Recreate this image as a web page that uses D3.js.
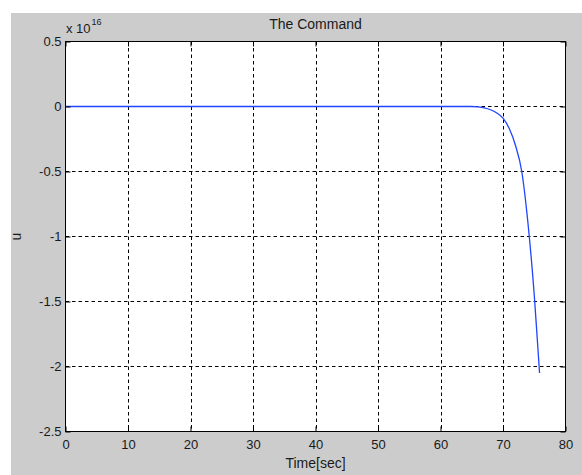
<!DOCTYPE html>
<html>
<head>
<meta charset="utf-8">
<script src="https://cdn.jsdelivr.net/npm/d3@7/dist/d3.min.js"></script>
<style>
  html, body { margin: 0; padding: 0; background: #ffffff; }
  svg { display: block; }
  text { font-family: "Liberation Sans", Arial, sans-serif; fill: #1a1a1a; }
</style>
</head>
<body>
<svg id="chart" width="582" height="475"></svg>
<script>
// ---- data (u in units of 1e16) ----
const time = [0, 10, 20, 30, 40, 50, 60, 65, 66, 67, 68, 69, 70, 71, 72, 73, 74, 75, 75.5, 75.85];
const u    = [0, 0, 0, 0, 0, 0, 0, 0, -0.003, -0.01, -0.025, -0.05, -0.09, -0.17, -0.3, -0.5, -0.9, -1.45, -1.8, -2.05];
const xTicks = [0, 10, 20, 30, 40, 50, 60, 70, 80];
const xTickLabels = ["0", "10", "20", "30", "40", "50", "60", "70", "80"];
const yTicks = [0.5, 0, -0.5, -1, -1.5, -2, -2.5];
const yTickLabels = ["0.5", "0", "-0.5", "-1", "-1.5", "-2", "-2.5"];
const exponent = "16";
const titleText = "The Command";
const xLabelText = "Time[sec]";
const yLabelText = "u";

const svg = d3.select("#chart");

// figure background
svg.append("rect").attr("x", 11).attr("y", 13).attr("width", 571).attr("height", 462).attr("fill", "#cccccc");

const L = 65.5, R = 565.5, T = 41.5, B = 431.5;
const x = d3.scaleLinear().domain([0, 80]).range([L, R]);
const y = d3.scaleLinear().domain([-2.5, 0.5]).range([B, T]);

// plot area
svg.append("rect").attr("x", L).attr("y", T).attr("width", R - L).attr("height", B - T).attr("fill", "#ffffff");

// grid
const grid = svg.append("g").attr("stroke", "#000").attr("stroke-width", 1).attr("stroke-dasharray", "3.5,3");
grid.selectAll("line.v").data(xTicks.filter(d => d > 0 && d < 80)).join("line")
  .attr("class", "v")
  .attr("x1", d => Math.round(x(d)) + 0.5).attr("x2", d => Math.round(x(d)) + 0.5)
  .attr("y1", T).attr("y2", B);
grid.selectAll("line.h").data(yTicks.filter(d => d < 0.5 && d > -2.5)).join("line")
  .attr("class", "h")
  .attr("y1", d => y(d)).attr("y2", d => y(d))
  .attr("x1", L).attr("x2", R);

// data line
const line = d3.line().x((d, i) => x(time[i])).y(d => y(d)).curve(d3.curveMonotoneX);
svg.append("path").datum(u).attr("d", line).attr("fill", "none")
  .attr("stroke", "#1f45ff").attr("stroke-width", 1.3);

// axes
const fmtX = d => xTickLabels[xTicks.indexOf(d)];
const fmtY = d => yTickLabels[yTicks.indexOf(d)];

const axB = svg.append("g").attr("transform", `translate(0,${B})`)
  .call(d3.axisBottom(x).tickValues(xTicks).tickFormat(fmtX).tickSize(-5).tickPadding(8).tickSizeOuter(0));
const axT = svg.append("g").attr("transform", `translate(0,${T})`)
  .call(d3.axisTop(x).tickValues(xTicks).tickFormat("").tickSize(-5).tickSizeOuter(0));
const axLf = svg.append("g").attr("transform", `translate(${L},0)`)
  .call(d3.axisLeft(y).tickValues(yTicks).tickFormat(fmtY).tickSize(-5).tickPadding(4).tickSizeOuter(0));
const axRt = svg.append("g").attr("transform", `translate(${R},0)`)
  .call(d3.axisRight(y).tickValues(yTicks).tickFormat("").tickSize(-5).tickSizeOuter(0));

[axB, axT, axLf, axRt].forEach(a => {
  a.select(".domain").remove();
  a.selectAll(".tick line").attr("stroke", "#000");
  a.selectAll("text").attr("font-size", 13).attr("fill", "#1a1a1a")
    .attr("font-family", '"Liberation Sans", Arial, sans-serif');
});

// box
svg.append("rect").attr("x", L).attr("y", T).attr("width", R - L).attr("height", B - T)
  .attr("fill", "none").attr("stroke", "#000").attr("stroke-width", 1);

// exponent label
const ex = svg.append("text").attr("x", 66).attr("y", 33).attr("font-size", 13);
ex.append("tspan").text("x 10");
ex.append("tspan").attr("font-size", 9).attr("dy", -8).attr("dx", 1).text(exponent);

// title
svg.append("text").attr("x", (L + R) / 2).attr("y", 29).attr("text-anchor", "middle")
  .attr("font-size", 14).text(titleText);

// x label
svg.append("text").attr("x", (L + R) / 2).attr("y", 468).attr("text-anchor", "middle")
  .attr("font-size", 14).text(xLabelText);

// y label
svg.append("text").attr("transform", `translate(21,${(T + B) / 2}) rotate(-90)`)
  .attr("text-anchor", "middle").attr("font-size", 14).text(yLabelText);
</script>
</body>
</html>
